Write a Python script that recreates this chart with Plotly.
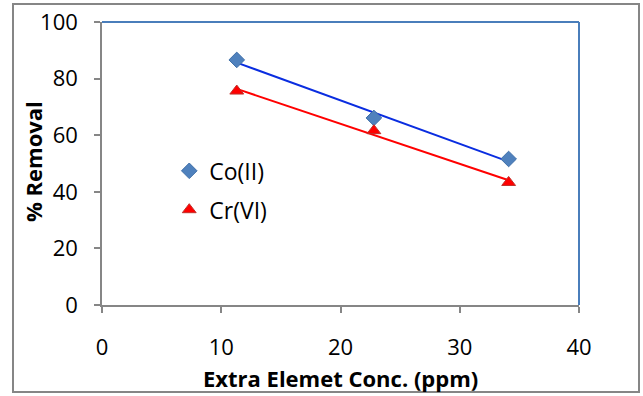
import numpy as np
import plotly.graph_objects as go

# Extra element concentration (ppm) and % removal for each metal ion
conc = [11.3, 22.8, 34.1]
co_removal = [86.6, 66.1, 51.6]
cr_removal = [75.6, 61.6, 43.3]

x_ticks = [0, 10, 20, 30, 40]
y_ticks = [0, 20, 40, 60, 80, 100]

FONT = "Open Sans"
GRAY = "#868686"

# plot-area geometry in pixels
W, H = 643, 396
ML, MR, MT, MB = 102, 64, 22, 91
PW, PH = W - ML - MR, H - MT - MB


def trend(xs, ys):
    k, b = np.polyfit(xs, ys, 1)
    xe = np.array([min(xs), max(xs)])
    return xe, k * xe + b


fig = go.Figure()

# Linear trend lines (not shown in legend)
for ys, col in [(co_removal, "#0a2de0"), (cr_removal, "#ff0000")]:
    tx, ty = trend(conc, ys)
    fig.add_trace(go.Scatter(x=tx, y=ty, mode="lines", showlegend=False,
                             line=dict(color=col, width=2), hoverinfo="skip"))

fig.add_trace(go.Scatter(
    x=conc, y=co_removal, mode="markers", name="Co(II)", legendgroup="a",
    marker=dict(symbol="diamond", size=12, color="#4f81bd",
                line=dict(color="#3f6fa8", width=1))))
fig.add_trace(go.Scatter(
    x=conc, y=cr_removal, mode="markers", name="Cr(VI)", legendgroup="b",
    marker=dict(symbol="triangle-up", size=12, color="#ff0000",
                line=dict(color="#c0302a", width=1))))

axis_common = dict(
    showgrid=False, zeroline=False, showline=True, linecolor=GRAY, linewidth=1.5,
    ticks="outside", ticklen=6, tickcolor=GRAY, tickwidth=1.5, automargin=False,
    tickfont=dict(family=FONT, size=22, color="#000000"),
)

fig.update_xaxes(range=[0, 40], tickvals=x_ticks, ticktext=[str(v) for v in x_ticks],
                 ticklabelstandoff=16, **axis_common)
fig.update_yaxes(range=[0, 100], tickvals=y_ticks, ticktext=[str(v) for v in y_ticks],
                 ticklabelstandoff=12, **axis_common)

# Axis titles
fig.add_annotation(text="<b>Extra Elemet Conc. (ppm)</b>", xref="paper", yref="paper",
                   x=(340 - ML) / PW, y=-(378 - (H - MB)) / PH,
                   xanchor="center", yanchor="middle", showarrow=False,
                   font=dict(family=FONT, size=22, color="#000000"))
fig.add_annotation(text="<b>% Removal</b>", xref="paper", yref="paper",
                   x=(33 - ML) / PW, y=((H - MB) - 162) / PH, textangle=-90,
                   xanchor="center", yanchor="middle", showarrow=False,
                   font=dict(family=FONT, size=22, color="#000000"))

# Blue top and right edges of the plot area, plus the outer chart frame
fig.add_shape(type="line", xref="paper", yref="paper", x0=0, x1=1, y0=1, y1=1,
              line=dict(color="#4a7ebb", width=2))
fig.add_shape(type="line", xref="paper", yref="paper", x0=1, x1=1, y0=0, y1=1,
              line=dict(color="#4a7ebb", width=2))
fig.add_shape(type="rect", xref="paper", yref="paper",
              x0=(13 - ML) / PW, x1=(639 - ML) / PW,
              y0=-(392 - (H - MB)) / PH, y1=((H - MB) - 4) / PH,
              line=dict(color=GRAY, width=2), layer="below")

fig.update_layout(
    width=W, height=H,
    margin=dict(l=ML, r=MR, t=MT, b=MB),
    paper_bgcolor="white", plot_bgcolor="white",
    font=dict(family=FONT, color="#000000"),
    showlegend=True,
    legend=dict(x=0.141, y=0.55, xanchor="left", yanchor="top",
                bgcolor="rgba(0,0,0,0)", traceorder="grouped", tracegroupgap=6,
                font=dict(family=FONT, size=23, color="#000000")),
)

fig.write_html("out.html")
